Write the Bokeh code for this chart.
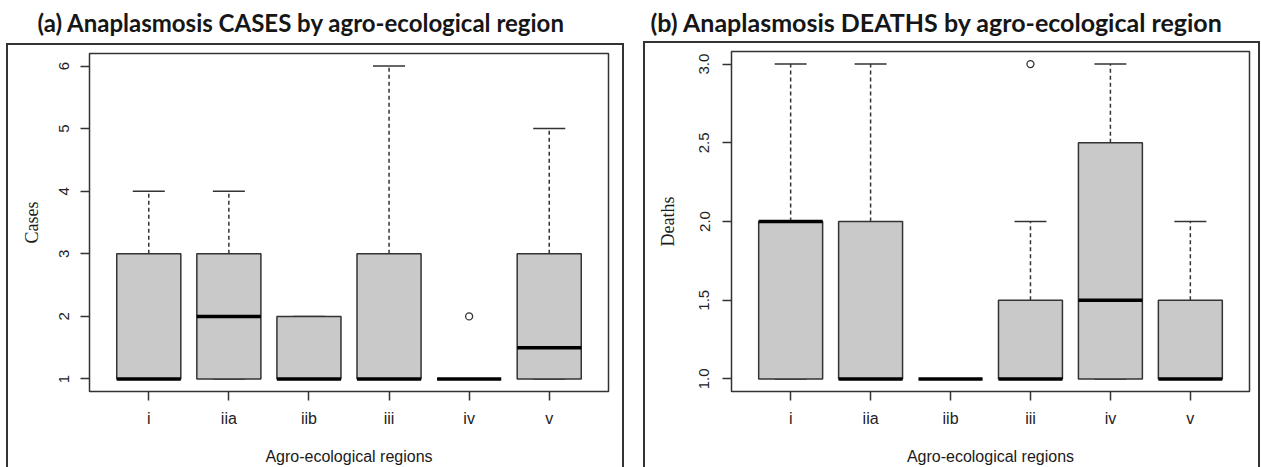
from bokeh.plotting import figure
from bokeh.models import Range1d, FixedTicker, ColumnDataSource, Spacer
from bokeh.layouts import row, column
from bokeh.embed import file_html
from bokeh.resources import INLINE

# ---------------- data ----------------
categories = ["i", "iia", "iib", "iii", "iv", "v"]

cases_low = [1, 1, 1, 1, 1, 1]
cases_q1 = [1, 1, 1, 1, 1, 1]
cases_median = [1, 2, 1, 1, 1, 1.5]
cases_q3 = [3, 3, 2, 3, 1, 3]
cases_high = [4, 4, 2, 6, 1, 5]
cases_outlier_cat = ["iv"]
cases_outlier_val = [2]
cases_ticks = [1, 2, 3, 4, 5, 6]
cases_tick_labels = ["1", "2", "3", "4", "5", "6"]

deaths_low = [1, 1, 1, 1, 1, 1]
deaths_q1 = [1, 1, 1, 1, 1, 1]
deaths_median = [2, 1, 1, 1, 1.5, 1]
deaths_q3 = [2, 2, 1, 1.5, 2.5, 1.5]
deaths_high = [3, 3, 1, 2, 3, 2]
deaths_outlier_cat = ["iii"]
deaths_outlier_val = [3]
deaths_ticks = [1.0, 1.5, 2.0, 2.5, 3.0]
deaths_tick_labels = ["1.0", "1.5", "2.0", "2.5", "3.0"]

title_a = "(a) Anaplasmosis CASES by agro-ecological region"
title_b = "(b) Anaplasmosis DEATHS by agro-ecological region"
x_title = "Agro-ecological regions"

# ---------------- style ----------------
BOX_W = 0.8
CAP_W = 0.4
LINE = "#333333"
FILL = "#c9c9c9"
OUTER = {"box-shadow": "inset 2px 0 0 #333333, inset -2px 0 0 #333333, "
                       "inset 0 2px 0 #333333"}


def title_fig(text, w, h, standoff, offset, size):
    tf = figure(width=w, height=h, toolbar_location=None, output_backend="svg",
                x_axis_location=None, y_axis_location=None, min_border=0,
                min_border_left=0, min_border_right=0,
                title=text)
    tf.outline_line_color = None
    tf.grid.visible = False
    tf.title.text_font = "Lato"
    tf.title.text_font_style = "bold"
    tf.title.text_font_size = size
    tf.title.text_color = "#161616"
    tf.title.align = "left"
    tf.title.standoff = standoff
    tf.title.offset = offset
    return tf


def panel(w, h, borders, low, q1, med, q3, high, out_cat, out_val,
          ticks, tick_labels, ylabel, ylab_standoff, ytick_standoff):
    n = len(categories)
    xs = list(range(1, n + 1))
    pos = dict(zip(categories, xs))
    ymin = min(low)
    ymax = max(max(high), max(out_val))
    ypad = 0.04 * (ymax - ymin)
    xpad = 0.04 * n
    bl, br, bt, bb = borders
    p = figure(width=w, height=h, toolbar_location=None, output_backend="svg",
               x_range=Range1d(0.5 - xpad, n + 0.5 + xpad),
               y_range=Range1d(ymin - ypad, ymax + ypad),
               min_border_left=bl, min_border_right=br,
               min_border_top=bt, min_border_bottom=bb)
    p.styles = OUTER
    p.border_fill_color = None
    p.grid.visible = False
    p.outline_line_color = LINE
    p.outline_line_width = 1.5
    p.background_fill_color = "white"

    src = ColumnDataSource(dict(
        x=xs, x0=[x - BOX_W / 2 for x in xs], x1=[x + BOX_W / 2 for x in xs],
        c0=[x - CAP_W / 2 for x in xs], c1=[x + CAP_W / 2 for x in xs],
        low=low, q1=q1, med=med, q3=q3, high=high))

    # whiskers
    p.segment(x0="x", x1="x", y0="q3", y1="high", source=src,
              line_color=LINE, line_width=1.5, line_dash="4 3")
    p.segment(x0="x", x1="x", y0="q1", y1="low", source=src,
              line_color=LINE, line_width=1.5, line_dash="4 3")
    # caps
    p.segment(x0="c0", x1="c1", y0="high", y1="high", source=src,
              line_color=LINE, line_width=1.5)
    p.segment(x0="c0", x1="c1", y0="low", y1="low", source=src,
              line_color=LINE, line_width=1.5)
    # boxes
    p.vbar(x="x", width=BOX_W, bottom="q1", top="q3", source=src,
           fill_color=FILL, line_color=LINE, line_width=1.5)
    # medians
    p.segment(x0="x0", x1="x1", y0="med", y1="med", source=src,
              line_color="black", line_width=3.5)
    # outliers
    p.scatter(x=[pos[c] for c in out_cat], y=out_val, marker="circle",
              size=7, fill_color="white", line_color=LINE, line_width=1.3)

    for ax in (p.xaxis[0], p.yaxis[0]):
        ax.axis_line_color = None
        ax.major_tick_out = 9
        ax.major_tick_in = 0
        ax.minor_tick_out = 0
        ax.minor_tick_in = 0
        ax.major_tick_line_color = LINE
        ax.major_tick_line_width = 1.5
        ax.major_label_text_font = "Liberation Sans"
        ax.major_label_text_color = "#222222"
        ax.axis_label_text_font_style = "normal"
        ax.axis_label_text_color = "#1a1a1a"

    xa = p.xaxis[0]
    xa.ticker = FixedTicker(ticks=xs)
    xa.major_label_overrides = {x: c for x, c in zip(xs, categories)}
    xa.major_label_text_font_size = "16px"
    xa.major_label_standoff = 9
    xa.axis_label = x_title
    xa.axis_label_text_font = "Liberation Sans"
    xa.axis_label_text_font_size = "16px"
    xa.axis_label_standoff = 18

    ya = p.yaxis[0]
    ya.ticker = FixedTicker(ticks=ticks)
    ya.major_label_overrides = {t: s for t, s in zip(ticks, tick_labels)}
    ya.major_label_orientation = "vertical"
    ya.major_label_text_font_size = "15px"
    ya.major_label_standoff = ytick_standoff
    ya.axis_label = ylabel
    ya.axis_label_text_font = "Liberation Serif"
    ya.axis_label_text_font_size = "18px"
    ya.axis_label_standoff = ylab_standoff
    return p


# the title figures share their frame edges with the panel below them,
# so the (negative) offsets are measured from the inner plot box's left edge
tf_a = title_fig(title_a, 618, 43, 10, -52, "24px")
p_a = panel(618, 424, (83, 16, 10, 73),
            cases_low, cases_q1, cases_median, cases_q3, cases_high,
            cases_outlier_cat, cases_outlier_val,
            cases_ticks, cases_tick_labels, "Cases", 15, 11)

tf_b = title_fig(title_b, 617, 41, 8, -81, "25px")
p_b = panel(617, 426, (88, 11, 10, 76),
            deaths_low, deaths_q1, deaths_median, deaths_q3, deaths_high,
            deaths_outlier_cat, deaths_outlier_val,
            deaths_ticks, deaths_tick_labels, "Deaths", 19, 13)

layout = row(Spacer(width=6, height=467), column(tf_a, p_a),
             Spacer(width=19, height=467), column(tf_b, p_b))

open("out.html", "w").write(file_html(layout, INLINE))
